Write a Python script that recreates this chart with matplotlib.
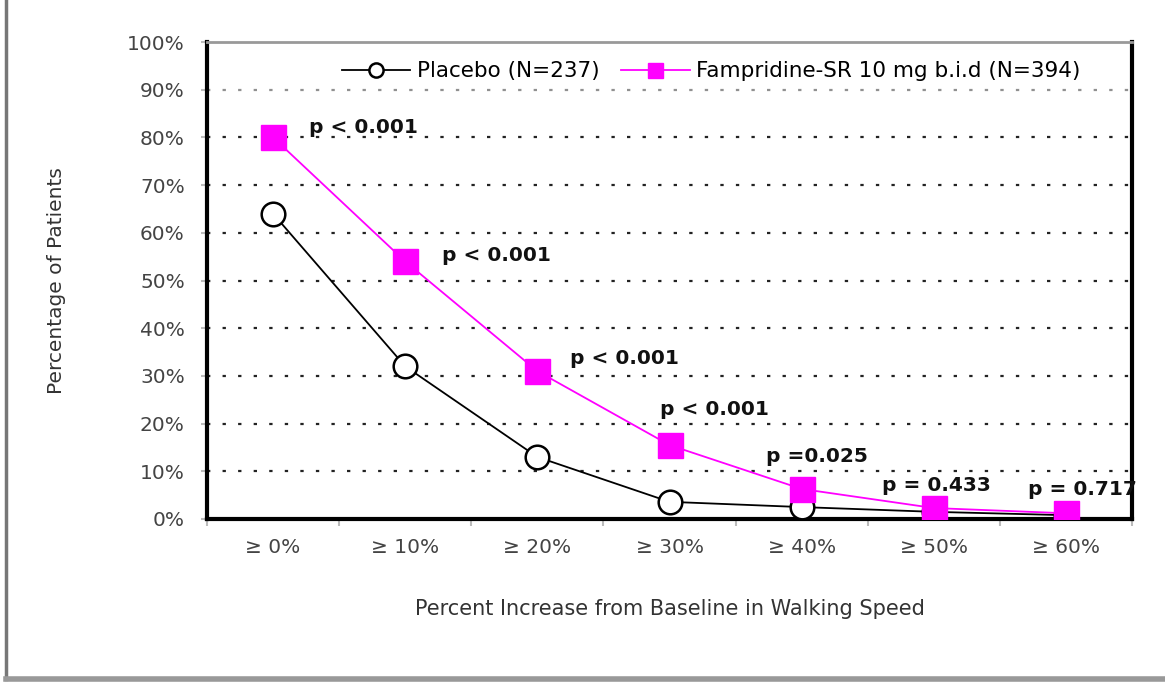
import numpy as np
import matplotlib
matplotlib.use("Agg")
import matplotlib.pyplot as plt
from matplotlib.lines import Line2D

plt.rcParams["font.family"] = ["DejaVu Sans"]

categories = ["≥ 0%", "≥ 10%", "≥ 20%", "≥ 30%", "≥ 40%", "≥ 50%", "≥ 60%"]
placebo = [64, 32, 13, 3.6, 2.5, 1.5, 0.8]
famp = [80, 54, 31, 15.5, 6.3, 2.3, 1.2]
pvals = ["p < 0.001", "p < 0.001", "p < 0.001", "p < 0.001", "p =0.025", "p = 0.433", "p = 0.717"]

W, H = 1165, 682
fig = plt.figure(figsize=(W / 100, H / 100), dpi=100)
ax = fig.add_axes([207 / W, 1 - 519 / H, (1132 - 207) / W, (519 - 42) / H])

x = np.arange(len(categories))
ax.set_xlim(-0.5, len(categories) - 0.5)
ax.set_ylim(0, 100)

# dotted reference lines
for yv in range(10, 100, 10):
    ax.axhline(yv, color="#222222", lw=1.6, ls=(0, (1.5, 5.5)), zorder=1,
               alpha=0.5 if yv == 90 else 1)

ax.plot(x, placebo, color="black", lw=1.3, marker="o", ms=17, mfc="white",
        mec="black", mew=1.8, zorder=3, label="Placebo (N=237)")
ax.plot(x, famp, color="#ff00ff", lw=1.3, marker="s", ms=18, mfc="#ff00ff",
        mec="#ff00ff", zorder=4, label="Fampridine-SR 10 mg b.i.d (N=394)")

offsets = [(0.27, 2.0), (0.28, 1.3), (0.25, 2.7), (-0.07, 7.5), (-0.27, 6.8),
           (-0.39, 4.8), (-0.29, 5.0)]
for xi, yi, p, (dx, dy) in zip(x, famp, pvals, offsets):
    ax.text(xi + dx, yi + dy, p, fontsize=14.5, fontweight="bold", ha="left",
            va="center", color="#111111", clip_on=False, zorder=5)

ax.set_yticks(range(0, 101, 10))
ax.set_yticklabels([f"{v}%" for v in range(0, 101, 10)], fontsize=14.5, color="#444444")
ax.set_xticks(x)
ax.set_xticklabels(categories, fontsize=14.5, color="#444444")
ax.tick_params(axis="x", length=0, pad=14)
ax.set_xticks(np.arange(-0.5, len(categories), 1), minor=True)
ax.tick_params(axis="x", which="minor", length=5, color="#bbbbbb", width=1.5)
ax.tick_params(axis="y", length=4, color="#bbbbbb", width=1.5, pad=12)

for side in ("left", "bottom", "right"):
    ax.spines[side].set_linewidth(3)
    ax.spines[side].set_color("black")
ax.spines["top"].set_linewidth(2)
ax.spines["top"].set_color("#999999")

ax.set_ylabel("Percentage of Patients", fontsize=14.5, color="#333333", labelpad=44)
ax.set_xlabel("Percent Increase from Baseline in Walking Speed", fontsize=15,
              color="#333333", labelpad=30)

leg = ax.legend(loc="upper center", bbox_to_anchor=(0.545, 1.0), ncol=2, frameon=False,
                fontsize=15.5, handlelength=3.2, markerscale=0.6, columnspacing=1.0,
                handletextpad=0.3)

# outer frame lines
fig.add_artist(Line2D([6 / W, 6 / W], [1 - 679 / H, 1], color="#777777", lw=2.5))
fig.add_artist(Line2D([6 / W, 1], [1 - 679 / H, 1 - 679 / H], color="#999999", lw=4))

fig.savefig("out.png", dpi=100)
